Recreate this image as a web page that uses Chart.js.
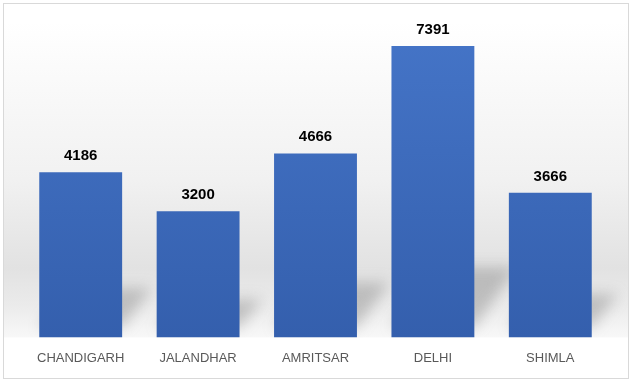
<!DOCTYPE html>
<html>
<head>
<meta charset="utf-8">
<script src="https://cdn.jsdelivr.net/npm/chart.js@4"></script>
<style>
  html, body { margin: 0; padding: 0; background: #ffffff; }
  #wrap { position: absolute; left: 0; top: 0; width: 632px; height: 382px; }
</style>
</head>
<body>
<div id="wrap"><canvas id="c" width="632" height="382"></canvas></div>
<script>
const categories = ['CHANDIGARH', 'JALANDHAR', 'AMRITSAR', 'DELHI', 'SHIMLA'];
const values = [4186, 3200, 4666, 7391, 3666];

const backdrop = {
  id: 'backdrop',
  beforeDraw(chart) {
    const ctx = chart.ctx;
    const a = chart.chartArea;
    ctx.save();
    ctx.fillStyle = '#ffffff';
    ctx.fillRect(0, 0, chart.width, chart.height);
    const g = ctx.createLinearGradient(0, a.top, 0, a.bottom);
    g.addColorStop(0, '#ffffff');
    g.addColorStop(0.5, '#f1f1f1');
    g.addColorStop(0.78, '#e2e2e2');
    g.addColorStop(0.9, '#ebebeb');
    g.addColorStop(1, '#f8f8f8');
    ctx.fillStyle = g;
    ctx.fillRect(4, a.top, chart.width - 8, a.bottom - a.top);
    ctx.strokeStyle = '#d9d9d9';
    ctx.lineWidth = 1;
    ctx.strokeRect(3.5, 3.5, chart.width - 7, chart.height - 7);
    ctx.restore();
  },
  beforeDatasetsDraw(chart) {
    const ctx = chart.ctx;
    const a = chart.chartArea;
    const meta = chart.getDatasetMeta(0);
    ctx.save();
    ctx.beginPath();
    ctx.rect(4, a.top, chart.width - 8, a.bottom - a.top);
    ctx.clip();
    ctx.filter = 'blur(7px)';
    meta.data.forEach(bar => {
      const half = bar.width / 2;
      const left = bar.x - half, right = bar.x + half;
      const base = bar.base;
      const h = Math.min(70, (base - bar.y) * 0.3);
      const dx = h * 0.6;
      ctx.fillStyle = 'rgba(110,110,110,0.35)';
      ctx.beginPath();
      ctx.moveTo(left, base - 10);
      ctx.lineTo(right, base - 10);
      ctx.lineTo(right + dx, base - h);
      ctx.lineTo(left + dx, base - h);
      ctx.closePath();
      ctx.fill();
    });
    ctx.restore();
  },
  afterDatasetsDraw(chart) {
    const ctx = chart.ctx;
    const meta = chart.getDatasetMeta(0);
    ctx.save();
    ctx.fillStyle = '#000000';
    ctx.font = 'bold 15px "Liberation Sans", Arial, sans-serif';
    ctx.textAlign = 'center';
    ctx.textBaseline = 'alphabetic';
    meta.data.forEach((bar, i) => {
      ctx.fillText(String(values[i]), bar.x, bar.y - 12);
    });
    ctx.restore();
  }
};

new Chart(document.getElementById('c'), {
  type: 'bar',
  data: {
    labels: categories,
    datasets: [{
      data: values,
      backgroundColor(ctx) {
        const ch = ctx.chart;
        const a = ch.chartArea;
        if (!a) return '#4472c4';
        const g = ch.ctx.createLinearGradient(0, a.top, 0, a.bottom);
        g.addColorStop(0, '#4575c8');
        g.addColorStop(1, '#345fad');
        return g;
      },
      borderWidth: 0,
      barPercentage: 0.706,
      categoryPercentage: 1.0
    }]
  },
  options: {
    responsive: false,
    animation: false,
    devicePixelRatio: 1,
    layout: { padding: { left: 22, right: 23, top: 22, bottom: 3 } },
    plugins: { legend: { display: false }, tooltip: { enabled: false } },
    scales: {
      x: {
        grid: { display: false, drawTicks: false },
        border: { display: false },
        ticks: {
          color: '#595959',
          padding: 13,
          font: { family: '"Liberation Sans", Arial, sans-serif', size: 13 }
        }
      },
      y: { display: false, min: 0, max: 8000 }
    }
  },
  plugins: [backdrop]
});
</script>
</body>
</html>
